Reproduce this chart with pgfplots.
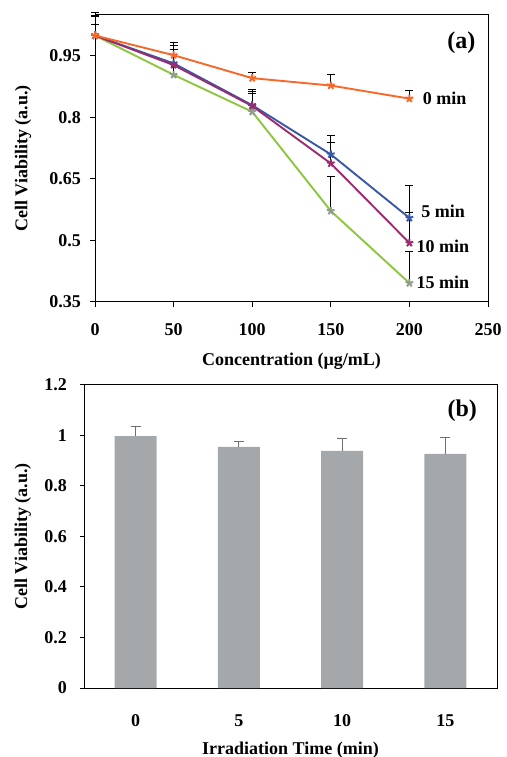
\documentclass[border=0pt]{standalone}
\usepackage{fontspec}
\setmainfont{Liberation Serif}
\usepackage{pgfplots}
\pgfplotsset{compat=1.18}
\definecolor{c0}{HTML}{F7692A}
\definecolor{c5}{HTML}{3B57A7}
\definecolor{c10}{HTML}{9A2C6E}
\definecolor{c15}{HTML}{8CC63E}
\definecolor{c15m}{HTML}{8E9E8A}
\definecolor{barg}{HTML}{A5A8AB}
\definecolor{errg}{HTML}{6F6F6F}

\begin{document}
\begin{tikzpicture}[font=\bfseries\fontsize{18}{21}\selectfont]
\useasboundingbox (0,0) rectangle (506pt,757pt);

% (a) viability vs concentration
\begin{axis}[
    at={(95pt,455pt)}, anchor=south west,
    scale only axis, width=393pt, height=287pt,
    xmin=0, xmax=250, ymin=0.35, ymax=1.05,
    xtick={0,50,100,150,200,250},
    ytick={0.35,0.5,0.65,0.8,0.95},
    xtick pos=bottom, ytick pos=left,
    tick align=outside, major tick length=5pt,
    axis line style={line width=1pt},
    tick style={line width=1pt, black},
    /pgf/number format/assume math mode=true,
    xticklabel style={anchor=base, yshift=-29pt},
    yticklabel style={anchor=east, inner sep=0pt, xshift=-9pt},
    xlabel={Concentration (µg/mL)},
    ylabel={Cell Viability (a.u.)},
    xlabel style={at={(axis description cs:0.5,-0.223)}, anchor=base},
    ylabel style={at={(axis description cs:-0.183,0.5)}, anchor=center},
    clip=false,
    every axis plot/.append style={line width=1.9pt},
    error bars/y dir=plus, error bars/y explicit,
    error bars/error bar style={black, line width=0.9pt},
    error bars/error mark options={rotate=90, mark size=4pt, line width=0.9pt, black},
  ]
  \addplot[color=c15, mark=star, mark size=4pt,
    mark options={draw=c15m, line width=2pt}] coordinates {
    (0,1.0) +- (0,0.050) (50,0.904) +- (0,0.061) (100,0.814) +- (0,0.045)
    (150,0.572) +- (0,0.085) (200,0.396) +- (0,0.077)
  };
  \addplot[color=c5, mark=star, mark size=4pt,
    mark options={line width=2pt}] coordinates {
    (0,1.0) +- (0,0.047) (50,0.932) +- (0,0.043) (100,0.830) +- (0,0.039)
    (150,0.710) +- (0,0.045) (200,0.555) +- (0,0.079)
  };
  \addplot[color=c10, mark=star, mark size=4pt,
    mark options={line width=2pt}] coordinates {
    (0,1.0) +- (0,0.027) (50,0.928) +- (0,0.054) (100,0.828) +- (0,0.036)
    (150,0.688) +- (0,0.050) (200,0.494) +- (0,0.075)
  };
  \addplot[color=c0, mark=star, mark size=4pt,
    mark options={line width=2pt}] coordinates {
    (0,1.0) +- (0,0.055) (50,0.952) +- (0,0.013) (100,0.896) +- (0,0.013)
    (150,0.878) +- (0,0.026) (200,0.846) +- (0,0.021)
  };
  \node[anchor=west, inner sep=0pt] at (axis cs:208.5,0.847) {0 min};
  \node[anchor=west, inner sep=0pt] at (axis cs:207.5,0.570) {5 min};
  \node[anchor=west, inner sep=0pt] at (axis cs:204.5,0.485) {10 min};
  \node[anchor=west, inner sep=0pt] at (axis cs:204.5,0.397) {15 min};
  \node[anchor=west, inner sep=0pt, font=\bfseries\fontsize{24}{28}\selectfont]
    at (axis cs:224,0.982) {(a)};
\end{axis}

% (b) viability vs irradiation time
\begin{axis}[
    at={(84pt,69pt)}, anchor=south west,
    scale only axis, width=413pt, height=303pt,
    xmin=-0.5, xmax=3.5, ymin=0, ymax=1.2,
    xtick={0,1,2,3}, xticklabels={0,5,10,15},
    ytick={0,0.2,0.4,0.6,0.8,1,1.2},
    ytick pos=left, xtick pos=bottom,
    tick align=outside, major tick length=4pt,
    axis line style={line width=1pt},
    ytick style={line width=1pt, black},
    xtick style={draw=none},
    /pgf/number format/assume math mode=true,
    xticklabel style={anchor=base, yshift=-34.7pt},
    yticklabel style={anchor=east, inner sep=0pt, xshift=-13pt},
    xlabel={Irradiation Time (min)},
    ylabel={Cell Viability (a.u.)},
    xlabel style={at={(axis description cs:0.5,-0.218)}, anchor=base},
    ylabel style={at={(axis description cs:-0.148,0.5)}, anchor=center},
    ybar, bar width=42pt,
  ]
  \addplot[fill=barg, draw=none,
    error bars/.cd, y dir=plus, y explicit,
    error bar style={errg, line width=1.1pt},
    error mark options={rotate=90, mark size=5pt, line width=1.1pt, errg}]
    coordinates {
    (0,0.998) +- (0,0.036) (1,0.955) +- (0,0.023)
    (2,0.939) +- (0,0.049) (3,0.927) +- (0,0.065)
  };
  \node[anchor=west, inner sep=0pt, font=\bfseries\fontsize{24}{28}\selectfont]
    at (axis cs:3.02,1.1) {(b)};
\end{axis}
\end{tikzpicture}
\end{document}
